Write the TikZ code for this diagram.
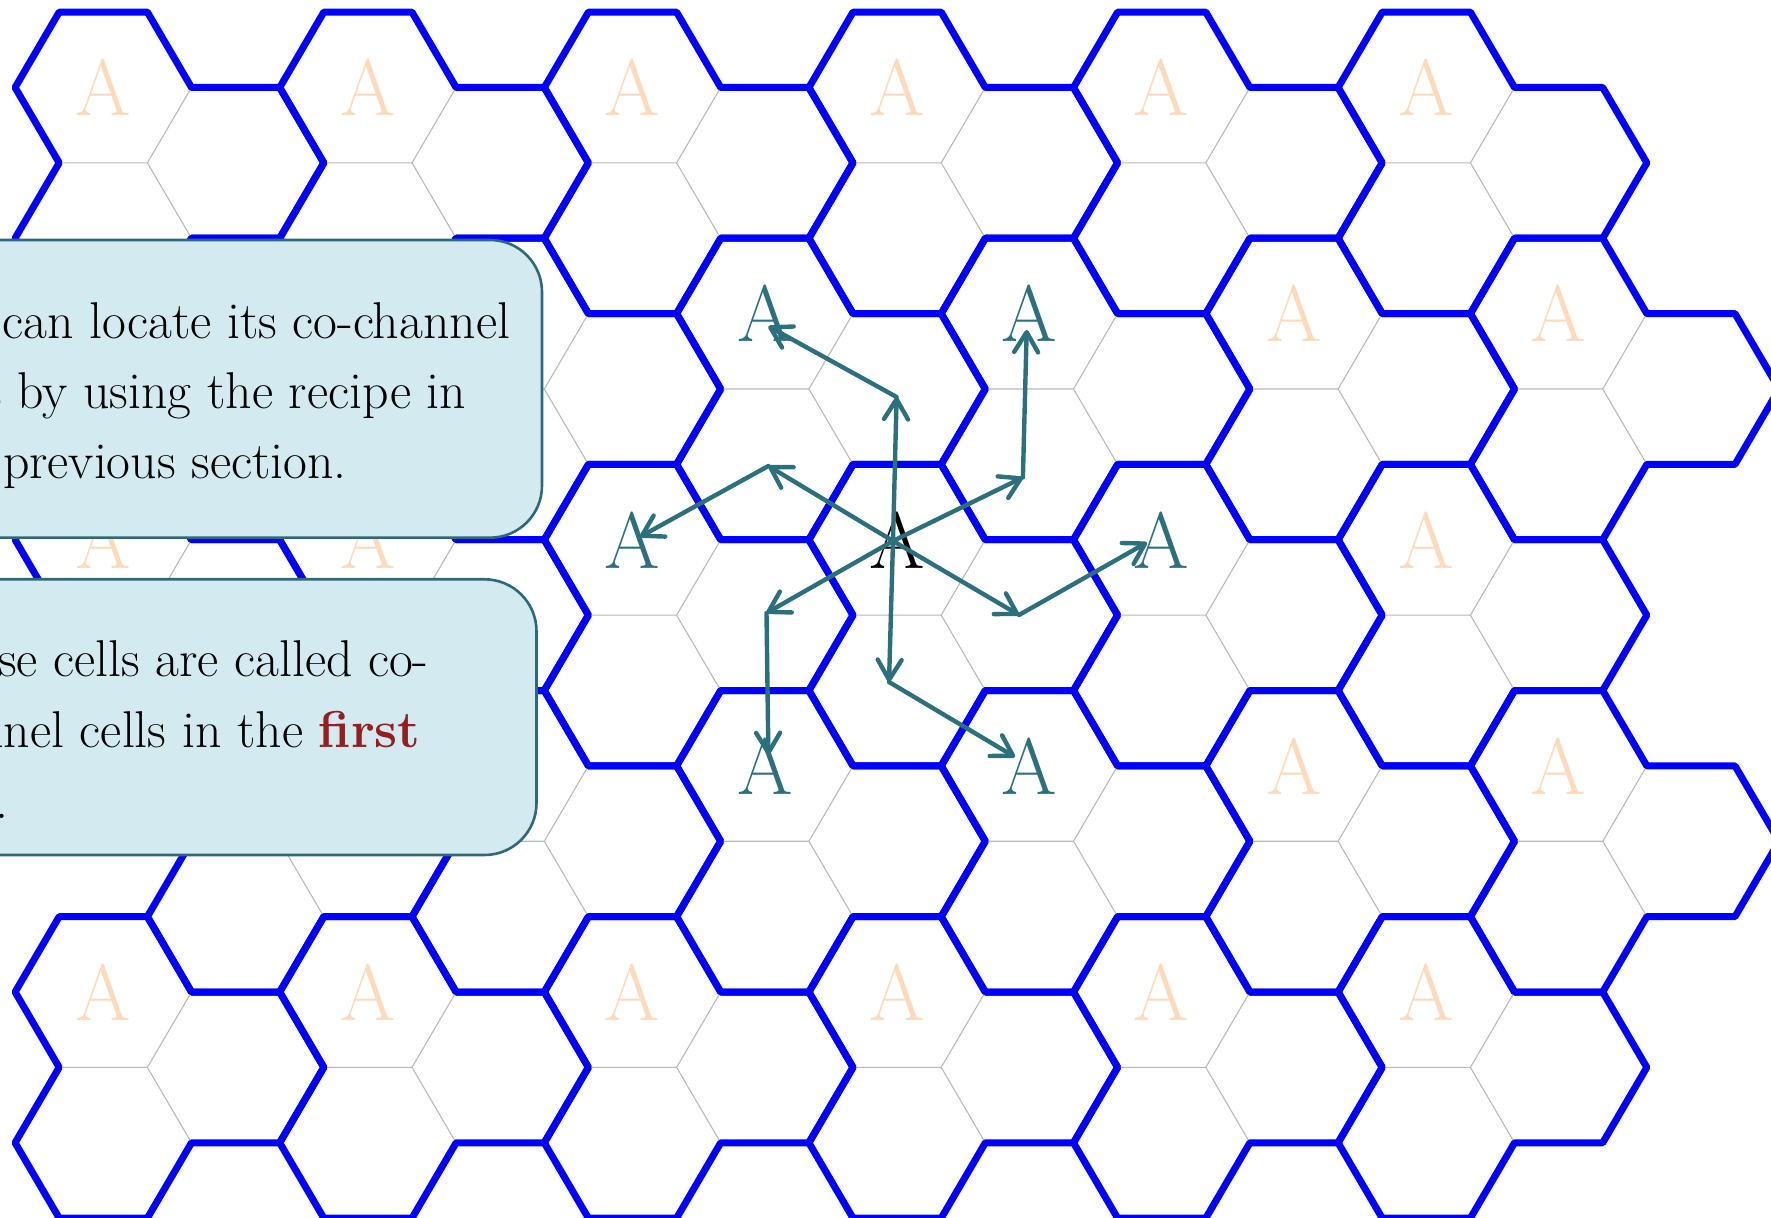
\documentclass[tikz,border=0pt]{standalone}
\usepackage{fontspec}
\usetikzlibrary{arrows.meta}
\definecolor{peach}{RGB}{253,218,188}
\definecolor{tealc}{RGB}{45,112,125}
\definecolor{boxfill}{RGB}{211,234,240}
\definecolor{boxedge}{RGB}{45,105,120}
\definecolor{firstred}{RGB}{150,30,30}
\definecolor{gridgray}{RGB}{185,185,185}
\tikzset{
  blueline/.style={draw=blue, line width=3.5pt, line join=round},
  gridline/.style={draw=gridgray, line width=0.55pt},
  bigA/.style={font=\fontsize{40}{40}\selectfont, inner sep=0pt},
  peachA/.style={bigA, text=peach},
  tealA/.style={bigA, text=tealc},
  blackA/.style={bigA, text=black},
  arr/.style={draw=tealc, line width=2.2pt, line cap=round, -{Straight Barb[length=10pt,width=12pt,round]}},
  infobox/.style={fill=boxfill, draw=boxedge, line width=1.3pt, rounded corners=26pt},
  txt/.style={font=\fontsize{25.9}{35}\selectfont, inner sep=0pt, anchor=base east},
}
\begin{document}
\begin{tikzpicture}[x=0.5pt,y=-0.5pt]
\useasboundingbox (0,0) rectangle (1771,1218);
\clip (0,0) rectangle (1771,1218);
% clusters of three cells
\foreach \r/\xo in {0/103.3,1/235.6,2/103.3,3/235.6,4/103.3}{
  \foreach \k in {0,...,5}{
    \pgfmathsetmacro\cx{\xo+264.6*\k}
    \pgfmathsetmacro\cy{87.5+226.125*\r}
    \begin{scope}[shift={(\cx,\cy)}]
      \draw[gridline] (88.2,0) -- (44.1,75.375) -- (-44.1,75.375) (44.1,75.375) -- (88.2,150.75);
      \draw[blueline] (-44.1,-75.375) -- (44.1,-75.375) -- (88.2,0) -- (176.4,0) -- (220.5,75.375)
        -- (176.4,150.75) -- (88.2,150.75) -- (44.1,226.125) -- (-44.1,226.125) -- (-88.2,150.75)
        -- (-44.1,75.375) -- (-88.2,0) -- cycle;
    \end{scope}
  }
}
% faded A labels (those fully under the text boxes are not drawn)
\foreach \r/\xo in {0/103.3,1/235.6,2/103.3,3/235.6,4/103.3}{
  \foreach \k in {0,...,5}{
    \pgfmathsetmacro\cx{\xo+264.6*\k}
    \pgfmathsetmacro\cy{87.5+226.125*\r}
    \pgfmathtruncatemacro\spec{or(or(and(or(\r==1,\r==3),and(\k>1,\k<4)),and(\r==2,and(\k>1,\k<5))),and(or(\r==1,\r==3),\k<2))}
    \ifnum\spec=0
      \node[peachA] (A-\r-\k) at (\cx,\cy) {A};
    \fi
  }
}
% highlighted A labels
\node[blackA] (Actr) at (897.1,539.75) {A};
\node[tealA] (Anw) at (764.8,313.6) {A};
\node[tealA] (Ane) at (1029.4,313.6) {A};
\node[tealA] (Aw) at (632.5,539.75) {A};
\node[tealA] (Ae) at (1161.7,539.75) {A};
\node[tealA] (Asw) at (764.8,765.9) {A};
\node[tealA] (Ase) at (1029.4,765.9) {A};
% text boxes
\draw[infobox] (-100,240) rectangle (542,537.7);
\draw[infobox] (-100,579.3) rectangle (536.5,855);
\node[txt] (t11) at (510.5,339) {can locate its co-channel};
\node[txt] (t12) at (466.5,409) {cells by using the recipe in};
\node[txt] (t13) at (347,479) {previous section.};
\node[txt] (t21) at (429,676) {These cells are called co-};
\node[txt] (t22) at (421,747) {channel cells in the \textcolor{firstred}{\bfseries first}};
\node[txt] (t23) at (9,818) {tier.};
% arrows
\coordinate (ctr) at (893,541);
\coordinate (pN) at (896.6,397);
\coordinate (pS) at (889,682);
\coordinate (pNW) at (768.4,466);
\coordinate (pSE) at (1019,615);
\coordinate (pNE) at (1022.9,477.4);
\coordinate (pSW) at (766.5,613);
\coordinate (tNW) at (768.4,326.3);
\coordinate (tNE) at (1026.7,330);
\coordinate (tE) at (1147,542.5);
\coordinate (tSE) at (1015,757);
\coordinate (tSW) at (768.4,755);
\coordinate (tW) at (640,536.8);
\draw[arr] (ctr) -- (pN);
\draw[arr] (ctr) -- (pS);
\draw[arr] (ctr) -- (pNW);
\draw[arr] (ctr) -- (pSE);
\draw[arr] (ctr) -- (pNE);
\draw[arr] (ctr) -- (pSW);
\draw[arr] (pN) -- (tNW);
\draw[arr] (pNE) -- (tNE);
\draw[arr] (pSE) -- (tE);
\draw[arr] (pS) -- (tSE);
\draw[arr] (pSW) -- (tSW);
\draw[arr] (pNW) -- (tW);
\end{tikzpicture}
\end{document}
